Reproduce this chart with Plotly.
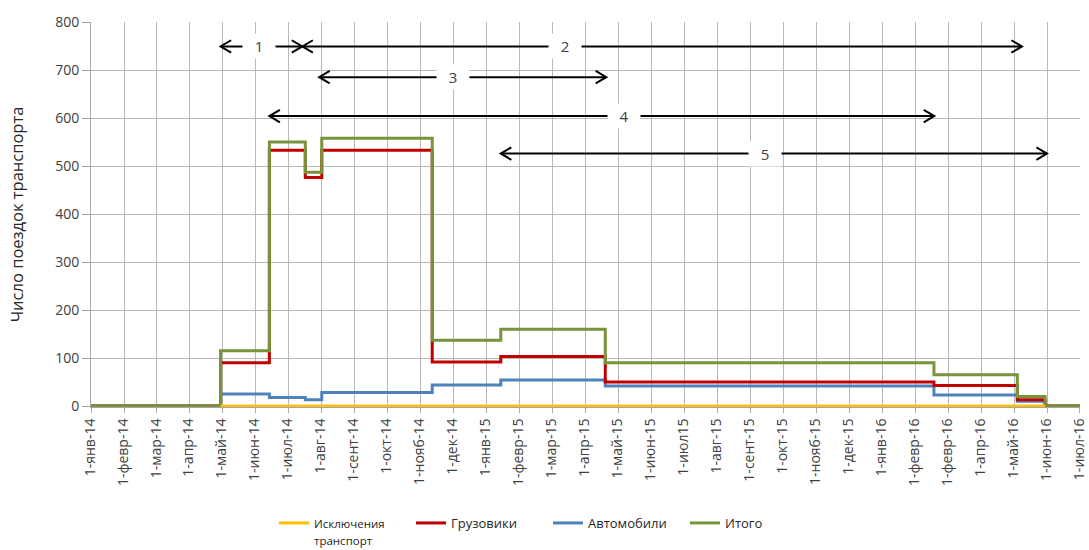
import plotly.graph_objects as go

# Month tick labels (one per month, Jan 2014 .. Jul 2016)
month_labels = [
    "1-янв-14", "1-февр-14", "1-мар-14", "1-апр-14", "1-май-14", "1-июн-14",
    "1-июл-14", "1-авг-14", "1-сент-14", "1-окт-14", "1-нояб-14", "1-дек-14",
    "1-янв-15", "1-февр-15", "1-мар-15", "1-апр-15", "1-май-15", "1-июн-15",
    "1-июл15", "1-авг-15", "1-сент-15", "1-окт-15", "1-нояб-15", "1-дек-15",
    "1-янв-16", "1-февр-16", "1-февр-16", "1-апр-16", "1-май-16", "1-июн-16",
    "1-июл-16",
]

# Step change points, in months from 1 Jan 2014
step_x = [0, 3.93, 5.41, 6.5, 7.0, 10.35, 12.43, 15.6, 25.57, 28.1, 28.94, 30]

total_vals = [0, 115, 550, 487, 558, 137, 160, 90, 65, 20, 0, 0]
truck_vals = [0, 90, 533, 476, 533, 92, 103, 50, 43, 13, 0, 0]
car_vals = [0, 25, 18, 13, 28, 44, 54, 42, 23, 10, 0, 0]

exempt_x = [3.93, 28.94]
exempt_vals = [0, 0]

# Phases shown as double-headed arrows: (start, end, level, label, label position)
phase_start = [3.93, 6.41, 6.92, 5.41, 12.43]
phase_end = [6.41, 28.24, 15.63, 25.58, 29.0]
phase_level = [749, 749, 685, 604, 526]
phase_label = ["1", "2", "3", "4", "5"]
phase_label_x = [5.11, 14.39, 10.98, 16.18, 20.44]

C_EXEMPT = "#FFC000"
C_TRUCK = "#C00000"
C_CAR = "#4F81BD"
C_TOTAL = "#77933C"
FONT = "Open Sans"

fig = go.Figure()
# drawing order: cars, trucks, total, exemptions on top at zero
fig.add_trace(go.Scatter(x=step_x, y=car_vals, mode="lines", line_shape="hv",
                         name="Автомобили", line=dict(color=C_CAR, width=3),
                         legendrank=3))
fig.add_trace(go.Scatter(x=step_x, y=truck_vals, mode="lines", line_shape="hv",
                         name="Грузовики", line=dict(color=C_TRUCK, width=3),
                         legendrank=2))
fig.add_trace(go.Scatter(x=step_x, y=total_vals, mode="lines", line_shape="hv",
                         name="Итого", line=dict(color=C_TOTAL, width=3),
                         legendrank=4))
fig.add_trace(go.Scatter(x=exempt_x, y=exempt_vals, mode="lines", line_shape="hv",
                         name="<span style='font-size:11.5px'>Исключения<br>транспорт</span>",
                         line=dict(color=C_EXEMPT, width=3), legendrank=1))

# open chevron arrowheads, sizes in data units
HEAD_DX = 0.32
HEAD_DY = 13
shapes = []
for x0, x1, lvl in zip(phase_start, phase_end, phase_level):
    shapes.append(dict(type="line", x0=x0, x1=x1, y0=lvl, y1=lvl,
                       xref="x", yref="y", line=dict(color="black", width=2)))
    shapes.append(dict(type="path", xref="x", yref="y",
                       path=f"M {x0 + HEAD_DX},{lvl + HEAD_DY} L {x0},{lvl} L {x0 + HEAD_DX},{lvl - HEAD_DY}",
                       line=dict(color="black", width=2)))
    shapes.append(dict(type="path", xref="x", yref="y",
                       path=f"M {x1 - HEAD_DX},{lvl + HEAD_DY} L {x1},{lvl} L {x1 - HEAD_DX},{lvl - HEAD_DY}",
                       line=dict(color="black", width=2)))

annotations = []
for lx, lvl, txt in zip(phase_label_x, phase_level, phase_label):
    annotations.append(dict(x=lx, y=lvl, xref="x", yref="y", text=txt, showarrow=False,
                            bgcolor="white", width=30, height=22,
                            font=dict(family=FONT, size=15, color="#404040")))

fig.update_layout(
    width=1089, height=550,
    margin=dict(l=91, r=9, t=22, b=143),
    plot_bgcolor="white", paper_bgcolor="white",
    font=dict(family=FONT, size=14, color="#404040"),
    shapes=shapes, annotations=annotations,
    legend=dict(orientation="h", xref="container", x=274 / 1089, xanchor="left",
                yref="container", y=42 / 550, yanchor="top", valign="top",
                font=dict(family=FONT, size=13, color="#262626"),
                itemwidth=30, entrywidth=92, traceorder="normal"),
)
fig.update_xaxes(
    range=[-0.001, 30.001], tickmode="array", tickvals=list(range(len(month_labels))),
    ticktext=month_labels, tickangle=-90, showgrid=True, gridcolor="#B8B8B8",
    gridwidth=1, showline=True, linecolor="#A6A6A6", ticks="outside", ticklen=5,
    tickcolor="#A6A6A6", zeroline=False, tickfont=dict(size=14, color="#404040"),
    automargin=False, layer="below traces", ticklabeloverflow="allow",
    ticklabelshift=-1,
)
fig.update_yaxes(
    range=[-2, 800], tickvals=list(range(0, 801, 100)), showgrid=True,
    gridcolor="#B8B8B8", gridwidth=1, showline=True, linecolor="#A6A6A6",
    ticks="outside", ticklen=8, tickcolor="#A6A6A6", zeroline=False,
    tickfont=dict(size=14, color="#404040"), automargin=False, layer="below traces",
    title=dict(text="Число поездок транспорта", font=dict(size=16.5, color="#262626"),
               standoff=27),
)

fig.write_html("out.html")
